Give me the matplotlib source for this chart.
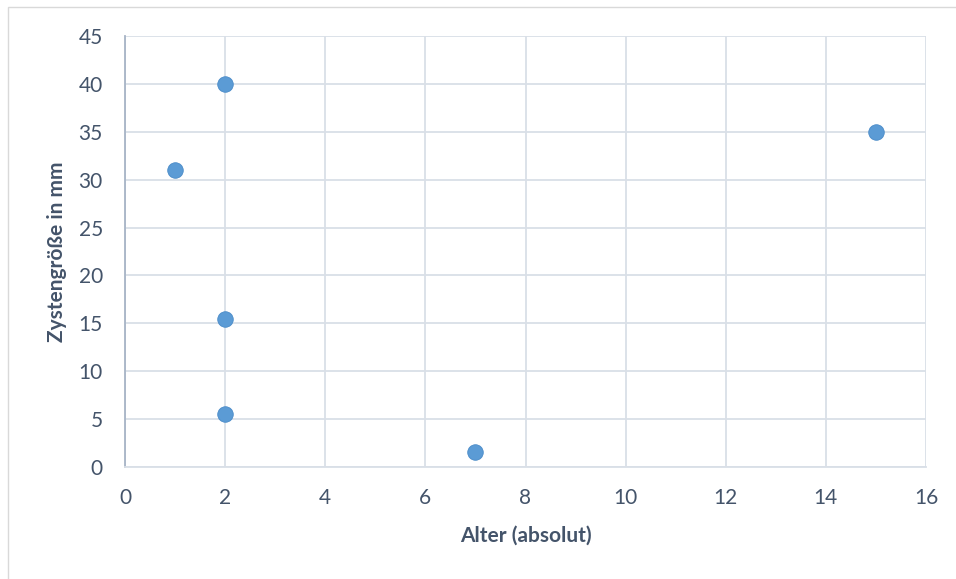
import matplotlib.pyplot as plt
from matplotlib.patches import Rectangle

# age vs cyst size
alter = [1, 2, 2, 2, 7, 15]
groesse = [31, 40, 15.5, 5.5, 1.6, 35]
x_ticks = [0, 2, 4, 6, 8, 10, 12, 14, 16]
y_ticks = [0, 5, 10, 15, 20, 25, 30, 35, 40, 45]

plt.rcParams['font.family'] = ['Lato', 'DejaVu Sans']
text_col = '#44546a'
grid_col = '#d9dfe7'

fig = plt.figure(figsize=(9.56, 5.79), dpi=100)
W, H = 956, 579

# chart frame
fig.patches.append(Rectangle((8 / W, -0.1), 1.2, 1 - 7 / H + 0.1,
                             transform=fig.transFigure, fill=False,
                             edgecolor='#d9d9d9', linewidth=1))

ax = fig.add_axes([125 / W, 1 - 467 / H, (926 - 125) / W, (467 - 36) / H])
ax.scatter(alter, groesse, s=125, color='#5b9bd5', edgecolors='#4a8bc8',
           linewidths=0.6, zorder=3)

ax.set_xlim(0, 16)
ax.set_ylim(0, 45)
ax.set_xticks(x_ticks)
ax.set_yticks(y_ticks)
ax.grid(True, color=grid_col, linewidth=1.3)
ax.set_axisbelow(True)
ax.tick_params(length=0, labelsize=15, colors=text_col)
ax.tick_params(axis='x', pad=15)
ax.tick_params(axis='y', pad=16)

for side in ['top', 'right']:
    ax.spines[side].set_visible(False)
ax.spines['bottom'].set_color(grid_col)
ax.spines['bottom'].set_linewidth(1.3)
ax.spines['left'].set_color('#a7b4c6')
ax.spines['left'].set_linewidth(1.3)

ax.set_xlabel('Alter (absolut)', fontsize=15, fontweight='bold',
              color=text_col, labelpad=13)
ax.set_ylabel('Zystengröße in mm', fontsize=15, fontweight='bold',
              color=text_col, labelpad=8)

fig.savefig('out.png', dpi=100)
